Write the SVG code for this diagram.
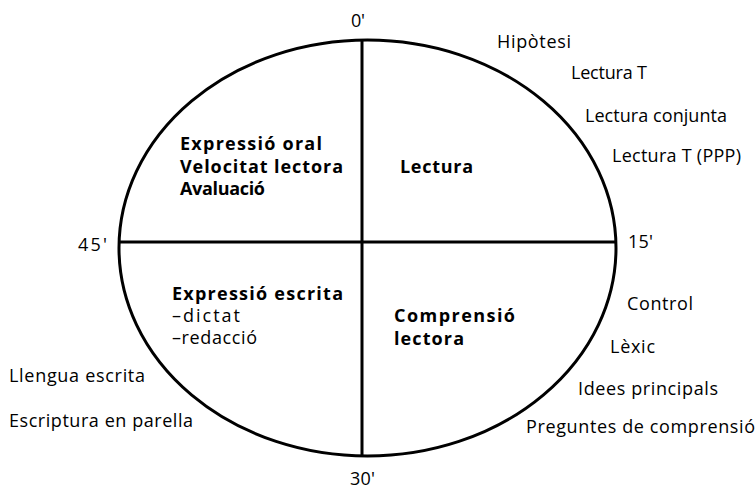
<svg xmlns="http://www.w3.org/2000/svg" width="756" height="491" viewBox="0 0 756 491">
<style>
text{font-family:"Open Sans","Noto Sans",sans-serif;font-size:18px;fill:#000}
.b{font-weight:bold}
.ln{stroke:#000;stroke-width:3;fill:none}
</style>
<rect width="756" height="491" fill="#fff"/>
<g id="clock">
<ellipse class="ln" cx="367.5" cy="248" rx="248.5" ry="208"/>
</g>
<g id="connectors">
<line class="ln" x1="362" y1="40" x2="362" y2="456"/>
<line class="ln" x1="119" y1="242" x2="616" y2="242"/>
</g>
<g id="ticks">
<text x="351" y="27" textLength="14">0'</text>
<text x="628" y="248" textLength="25">15'</text>
<text x="350" y="485" textLength="25">30'</text>
<text x="78" y="251" textLength="29">45'</text>
</g>
<g id="q1">
<text class="b" x="180" y="150" textLength="142">Expressió oral</text>
<text class="b" x="180" y="173" textLength="163">Velocitat lectora</text>
<text class="b" x="180" y="195" textLength="85">Avaluació</text>
</g>
<g id="q2">
<text class="b" x="400" y="173" textLength="73">Lectura</text>
</g>
<g id="q3">
<text class="b" x="394" y="322" textLength="121">Comprensió</text>
<text class="b" x="394" y="345" textLength="70">lectora</text>
</g>
<g id="q4">
<text class="b" x="172" y="300" textLength="171">Expressió escrita</text>
<text x="172" y="322" textLength="68">–dictat</text>
<text x="172" y="344" textLength="85">–redacció</text>
</g>
<g id="right-top">
<text x="497" y="48" textLength="74">Hipòtesi</text>
<text x="571" y="79" textLength="76">Lectura T</text>
<text x="585" y="122" textLength="142">Lectura conjunta</text>
<text x="612" y="162" textLength="129">Lectura T (PPP)</text>
</g>
<g id="right-bottom">
<text x="627" y="310" textLength="66">Control</text>
<text x="610" y="353" textLength="45">Lèxic</text>
<text x="578" y="395" textLength="140">Idees principals</text>
<text x="526" y="433" textLength="229">Preguntes de comprensió</text>
</g>
<g id="left-bottom">
<text x="9" y="382" textLength="136">Llengua escrita</text>
<text x="9" y="427" textLength="184">Escriptura en parella</text>
</g>
</svg>
